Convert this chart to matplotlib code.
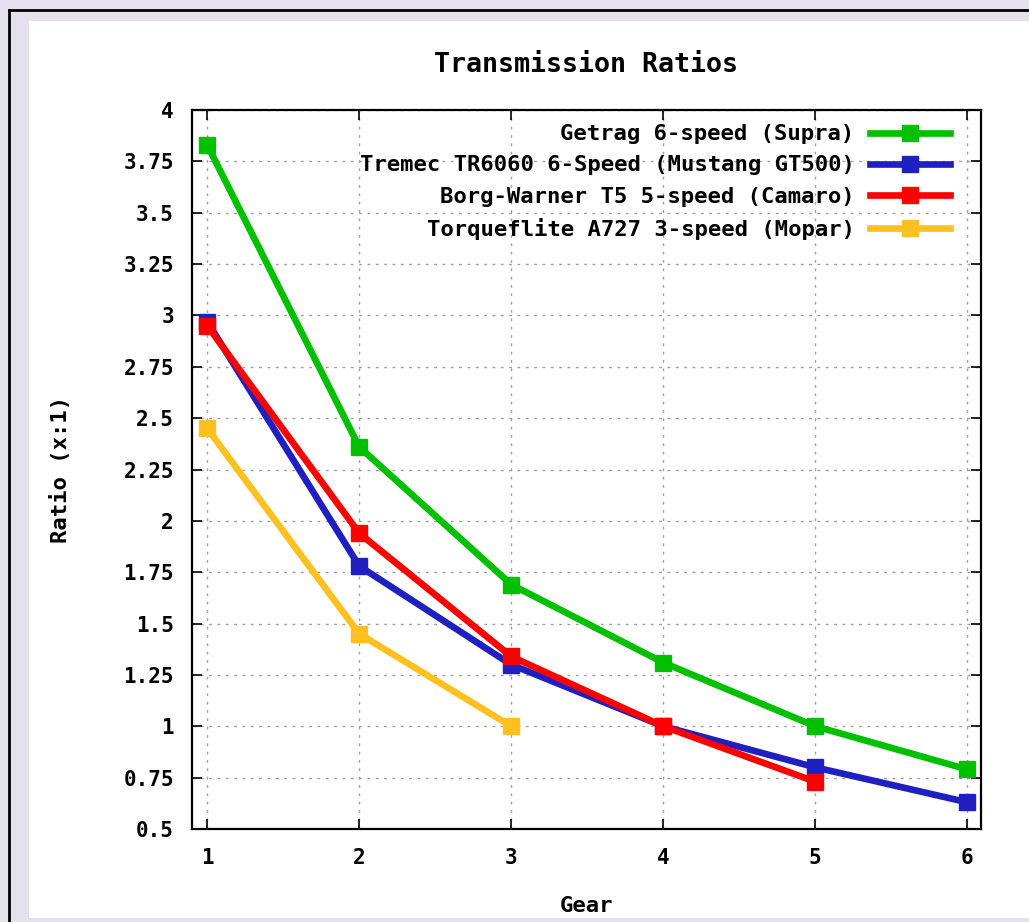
import matplotlib
matplotlib.use("Agg")
import matplotlib.pyplot as plt
from matplotlib.patches import Rectangle

gears = [1, 2, 3, 4, 5, 6]
supra = [3.83, 2.36, 1.69, 1.31, 1.00, 0.79]
gt500 = [2.97, 1.78, 1.30, 1.00, 0.80, 0.63]
camaro = [2.95, 1.94, 1.34, 1.00, 0.73]
mopar = [2.45, 1.45, 1.00]

names = ["Getrag 6-speed (Supra)",
         "Tremec TR6060 6-Speed (Mustang GT500)",
         "Borg-Warner T5 5-speed (Camaro)",
         "Torqueflite A727 3-speed (Mopar)"]
colors = ["#00c000", "#2020c0", "#ff0000", "#ffc020"]
yticks = [0.5, 0.75, 1, 1.25, 1.5, 1.75, 2, 2.25, 2.5, 2.75, 3, 3.25, 3.5, 3.75, 4]

plt.rcParams['font.family'] = ['DejaVu Sans Mono']
plt.rcParams['font.weight'] = 'bold'
plt.rcParams['font.size'] = 16

W, H = 1029, 922
fig = plt.figure(figsize=(W / 100, H / 100), dpi=100, facecolor="#e4e0ee")
# white panel and dark frame
fig.add_artist(Rectangle((29 / W, 1 - 918 / H), 1, (918 - 21) / H,
                         transform=fig.transFigure, facecolor="white",
                         edgecolor="none", zorder=-10))
fig.add_artist(plt.Line2D([9 / W, 9 / W], [0, 1 - 10 / H], color="black", lw=2,
                          transform=fig.transFigure, zorder=-5))
fig.add_artist(plt.Line2D([9 / W, 1], [1 - 10 / H, 1 - 10 / H], color="black", lw=2,
                          transform=fig.transFigure, zorder=-5))

ax = fig.add_axes([192 / W, 1 - 829 / H, (981 - 192) / W, (829 - 110) / H])
ax.set_facecolor("white")

series = [supra, gt500, camaro, mopar]
for vals, name, c in zip(series, names, colors):
    ax.plot(gears[:len(vals)], vals, color=c, lw=4.8, marker="s", markersize=11.5,
            label=name, solid_joinstyle="miter")

ax.set_xlim(0.9, 6.09)
ax.set_ylim(0.5, 4)
ax.set_xticks(gears)
ax.set_yticks(yticks)
ax.set_yticklabels([f"{t:g}" for t in yticks])
ax.tick_params(direction="in", top=True, right=True, length=7, width=1.2,
               labelsize=15)
ax.tick_params(axis="y", pad=13)
ax.tick_params(axis="x", pad=14)
ax.grid(True, color="#a0a0a0", linestyle=(0, (2, 4)), lw=1)
for s in ax.spines.values():
    s.set_linewidth(1.6)

ax.set_title("Transmission Ratios", pad=27, fontweight="bold")
ax.set_xlabel("Gear", labelpad=20, fontweight="bold")
ax.set_ylabel("Ratio (x:1)", labelpad=38, fontweight="bold")

leg = ax.legend(loc="upper right", frameon=False, markerfirst=False,
                handlelength=3.6, handletextpad=0.7,
                bbox_to_anchor=(0.961, 0.98), labelspacing=0.5,
                borderpad=0, borderaxespad=0)

fig.savefig("out.png", dpi=100, facecolor=fig.get_facecolor())
